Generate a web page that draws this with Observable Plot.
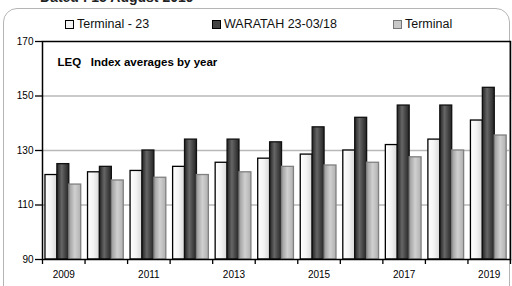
<!DOCTYPE html>
<html><head><meta charset="utf-8">
<script src="https://cdn.jsdelivr.net/npm/d3@7"></script>
<script src="https://cdn.jsdelivr.net/npm/@observablehq/plot@0.6"></script>
<style>
body{margin:0;background:#fff;font-family:Arial,"Liberation Sans",sans-serif;}
#wrap{position:relative;width:512px;height:286px;overflow:hidden;background:#fff;}
#box{position:absolute;left:3px;top:8px;width:505px;height:300px;border:1.5px solid #b5b5b5;border-radius:14px;}
#date{position:absolute;left:40px;top:-11px;font-size:14px;font-weight:bold;color:#222;}
#legend{position:absolute;top:17px;left:0;width:512px;height:15px;font-size:12.5px;color:#111;}
.item{position:absolute;display:flex;align-items:center;white-space:nowrap;}
.sw{width:7px;height:7px;border:1.6px solid #000;margin-right:3px;}
#chart{position:absolute;left:0;top:35px;}
</style></head>
<body>
<div id="wrap">
  <div id="box"></div>
  <div id="date">Dated : 15 August 2019</div>
  <div id="legend"></div>
  <div id="chart"></div>
</div>
<script>
const years = [2009, 2010, 2011, 2012, 2013, 2014, 2015, 2016, 2017, 2018, 2019];
const terminal23 = [121, 122, 122.5, 124, 125.5, 127, 128.5, 130, 132, 134, 141];
const waratah = [125, 124, 130, 134, 134, 133, 138.5, 142, 146.5, 146.5, 153];
const terminal = [117.5, 119, 120, 121, 122, 124, 124.5, 125.5, 127.5, 130, 135.5];
const seriesNames = ["Terminal - 23", "WARATAH 23-03/18", "Terminal"];
const yTicks = [90, 110, 130, 150, 170];
const labelYears = [2009, 2011, 2013, 2015, 2017, 2019];
const chartTitle = "LEQ\u00a0\u00a0\u00a0Index averages by year";

const seriesValues = [terminal23, waratah, terminal];
const fills = ["url(#gW)", "url(#gD)", "url(#gL)"];
const strokes = ["#000", "#111", "#808080"];
const swatchBg = ["#f2f2f2", "#444", "#c8c8c8"];

const rows = years.flatMap((y, i) => seriesValues.map((vals, k) => ({year: y, k, series: seriesNames[k], value: vals[i]})));
const boundaries = years.map(y => y - 0.5).concat([years[years.length - 1] + 0.5]);
const groupPad = 0.07, barW = 0.28;

const legend = document.getElementById("legend");
const legendLeft = [65, 212, 393];
seriesNames.forEach((s, k) => {
  const it = document.createElement("div");
  it.className = "item";
  it.style.left = legendLeft[k] + "px";
  it.innerHTML = `<span class="sw" style="background:${swatchBg[k]};border-color:${k===2?'#777':'#000'}"></span><span>${s}</span>`;
  legend.appendChild(it);
});

const barMark = k => Plot.rectY(rows.filter(d => d.k === k), {
  x1: d => d.year - 0.5 + groupPad + d.k * barW,
  x2: d => d.year - 0.5 + groupPad + (d.k + 1) * barW,
  y1: yTicks[0], y2: "value",
  fill: fills[k], stroke: strokes[k], strokeWidth: 1.3
});

const chart = Plot.plot({
  width: 512, height: 251,
  marginLeft: 42, marginRight: 2, marginTop: 6, marginBottom: 27,
  style: {fontFamily: "Arial, 'Liberation Sans', sans-serif", fontSize: "10px", color: "#000", background: "transparent"},
  x: {domain: [years[0] - 0.5, years[years.length - 1] + 0.5], axis: null},
  y: {domain: [yTicks[0], yTicks[yTicks.length - 1]], axis: null},
  marks: [
    Plot.gridY(yTicks.slice(1, -1), {stroke: "#b8b8b8", strokeOpacity: 1, strokeWidth: 1.5}),
    barMark(0), barMark(1), barMark(2),
    Plot.frame({stroke: "#000", strokeWidth: 1.5}),
    Plot.axisY(yTicks, {tickSize: 7, tickPadding: 2, strokeWidth: 1.3, fontSize: 10, label: null}),
    Plot.axisX(boundaries, {tickSize: 5, tickFormat: () => "", strokeWidth: 1.3, label: null}),
    Plot.axisX(labelYears, {tickSize: 0, tickPadding: 11, tickFormat: d => String(d), fontSize: 10, label: null}),
    Plot.text([chartTitle], {frameAnchor: "top-left", dx: 15, dy: 16, fontSize: 11.5, fontWeight: "bold", textAnchor: "start"})
  ]
});

const defs = d3.select(chart).insert("defs", ":first-child");
function grad(id, stops) {
  const g = defs.append("linearGradient").attr("id", id).attr("x1", "0").attr("x2", "1").attr("y1", "0").attr("y2", "0");
  stops.forEach(([o, c]) => g.append("stop").attr("offset", o).attr("stop-color", c));
}
grad("gW", [[0, "#ffffff"], [0.5, "#f4f4f4"], [1, "#d8d8d8"]]);
grad("gD", [[0, "#242424"], [0.4, "#666666"], [0.7, "#444444"], [1, "#242424"]]);
grad("gL", [[0, "#9a9a9a"], [0.5, "#d0d0d0"], [1, "#b0b0b0"]]);

document.getElementById("chart").appendChild(chart);
</script>
</body></html>
